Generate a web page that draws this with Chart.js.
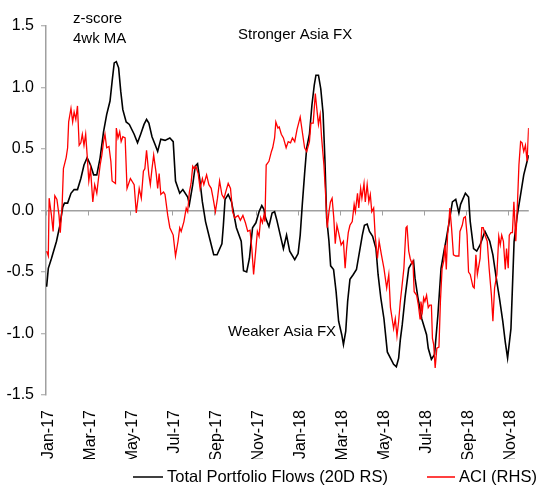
<!DOCTYPE html>
<html>
<head>
<meta charset="utf-8">
<script src="https://cdn.jsdelivr.net/npm/chart.js@4"></script>
<style>
  html, body { margin: 0; padding: 0; background: #fff; }
  #wrap { width: 542px; height: 493px; }
</style>
</head>
<body>
<div id="wrap"><canvas id="chart"></canvas></div>
<script>
// months since Jan-17 and z-score
const xTickLabels = ['Jan-17', 'Mar-17', 'May-17', 'Jul-17', 'Sep-17', 'Nov-17',
                     'Jan-18', 'Mar-18', 'May-18', 'Jul-18', 'Sep-18', 'Nov-18'];
const yTicks = [-1.5, -1.0, -0.5, 0.0, 0.5, 1.0, 1.5];
const seriesNames = ['Total Portfolio Flows (20D RS)', 'ACI (RHS)'];
const seriesColors = ['#000000', '#ff0000'];

const flowPoints = [
  [0.03,-0.62],[0.11,-0.47],[0.26,-0.39],[0.50,-0.25],[0.65,-0.13],[0.80,0.03],[0.88,0.06],[1.03,0.06],[1.19,0.14],[1.34,0.17],
  [1.50,0.17],[1.66,0.26],[1.81,0.37],[1.96,0.43],[2.12,0.37],[2.27,0.29],[2.42,0.29],[2.58,0.43],[2.74,0.64],[2.89,0.78],
  [3.05,0.89],[3.15,1.05],[3.25,1.20],[3.35,1.21],[3.46,1.16],[3.56,0.97],[3.66,0.82],[3.82,0.72],[3.97,0.70],[4.20,0.62],
  [4.36,0.55],[4.51,0.62],[4.67,0.70],[4.79,0.74],[4.90,0.71],[5.05,0.60],[5.21,0.53],[5.32,0.48],[5.47,0.58],[5.67,0.57],
  [5.90,0.59],[6.06,0.56],[6.17,0.24],[6.37,0.14],[6.52,0.17],[6.75,0.11],[6.83,0.05],[6.99,0.21],[7.11,0.36],[7.22,0.38],
  [7.32,0.26],[7.45,0.07],[7.60,-0.09],[7.80,-0.23],[7.99,-0.36],[8.15,-0.36],[8.38,-0.27],[8.45,-0.12],[8.53,0.09],[8.68,0.13],
  [8.84,0.07],[9.07,-0.14],[9.30,-0.25],[9.41,-0.49],[9.56,-0.50],[9.69,-0.39],[9.84,-0.14],[10.00,-0.10],[10.15,-0.01],[10.28,0.04],
  [10.38,0.01],[10.46,-0.06],[10.62,-0.13],[10.77,-0.02],[10.89,-0.01],[11.00,-0.08],[11.16,-0.20],[11.31,-0.31],[11.46,-0.20],[11.61,-0.33],
  [11.85,-0.40],[12.01,-0.35],[12.11,-0.20],[12.21,0.05],[12.32,0.30],[12.42,0.51],[12.55,0.62],[12.67,0.86],[12.78,1.02],[12.86,1.10],
  [12.98,1.10],[13.09,0.99],[13.20,0.79],[13.29,0.40],[13.37,-0.06],[13.48,-0.25],[13.56,-0.45],[13.70,-0.48],[13.82,-0.66],[13.94,-0.90],
  [14.09,-1.01],[14.17,-1.09],[14.28,-0.98],[14.37,-0.74],[14.48,-0.56],[14.64,-0.52],[14.79,-0.48],[14.94,-0.33],[15.07,-0.20],[15.17,-0.12],
  [15.30,-0.11],[15.41,-0.17],[15.56,-0.21],[15.72,-0.31],[15.82,-0.52],[15.95,-0.71],[16.10,-0.88],[16.26,-1.15],[16.41,-1.20],[16.56,-1.25],
  [16.69,-1.27],[16.80,-1.20],[16.88,-1.05],[16.97,-0.93],[17.11,-0.70],[17.28,-0.47],[17.41,-0.43],[17.51,-0.41],[17.58,-0.55],[17.71,-0.70],
  [17.90,-0.88],[18.13,-1.01],[18.21,-1.12],[18.36,-1.21],[18.51,-1.17],[18.67,-0.85],[18.82,-0.47],[18.96,-0.33],[19.05,-0.25],[19.21,-0.09],
  [19.36,0.07],[19.52,0.09],[19.67,-0.02],[19.75,0.05],[19.98,0.14],[20.13,0.11],[20.21,-0.09],[20.37,-0.31],[20.52,-0.33],[20.68,-0.28],
  [20.91,-0.17],[21.14,-0.25],[21.29,-0.36],[21.45,-0.55],[21.60,-0.71],[21.76,-0.90],[21.88,-1.07],[21.99,-1.20],[22.15,-0.96],[22.30,-0.25],
  [22.45,-0.04],[22.61,0.13],[22.76,0.29],[22.92,0.40],[23.00,0.45]
];

const aciPoints = [
  [0.03,-0.33],[0.11,-0.37],[0.15,0.10],[0.26,-0.04],[0.34,-0.17],[0.42,0.12],[0.52,0.09],[0.62,-0.04],[0.68,-0.18],[0.77,0.05],
  [0.83,0.34],[0.96,0.43],[1.03,0.51],[1.08,0.72],[1.19,0.83],[1.27,0.72],[1.34,0.80],[1.42,0.74],[1.50,0.85],[1.58,0.53],
  [1.66,0.55],[1.73,0.62],[1.81,0.53],[1.89,0.62],[1.96,0.45],[2.04,0.24],[2.12,0.34],[2.23,0.07],[2.32,0.21],[2.42,0.14],
  [2.50,0.26],[2.58,0.37],[2.66,0.45],[2.74,0.56],[2.81,0.62],[2.89,0.51],[3.00,0.52],[3.09,0.40],[3.15,0.24],[3.31,0.22],
  [3.35,0.67],[3.43,0.59],[3.51,0.64],[3.58,0.56],[3.66,0.60],[3.77,0.59],[3.86,0.18],[4.02,0.26],[4.20,0.21],[4.30,-0.02],
  [4.44,0.18],[4.54,0.10],[4.64,0.32],[4.71,0.34],[4.79,0.49],[4.90,0.29],[4.97,0.21],[5.05,0.34],[5.13,0.45],[5.25,0.30],
  [5.32,0.18],[5.39,0.30],[5.47,0.13],[5.60,0.15],[5.67,0.13],[5.80,-0.04],[5.90,-0.14],[6.06,-0.20],[6.17,-0.37],[6.29,-0.25],
  [6.37,-0.14],[6.44,-0.17],[6.57,-0.09],[6.68,0.02],[6.75,-0.01],[6.83,0.15],[6.91,0.22],[6.99,0.36],[7.06,0.34],[7.14,0.36],
  [7.25,0.30],[7.34,0.18],[7.45,0.26],[7.52,0.21],[7.65,0.29],[7.76,0.21],[7.87,0.18],[7.96,0.10],[8.07,-0.01],[8.17,0.10],
  [8.27,0.24],[8.38,0.13],[8.48,0.10],[8.61,0.18],[8.68,0.22],[8.79,0.18],[8.89,-0.01],[8.99,-0.06],[9.15,-0.04],[9.26,-0.08],
  [9.38,-0.04],[9.50,-0.10],[9.61,-0.17],[9.72,-0.16],[9.81,-0.32],[9.89,-0.52],[10.00,-0.31],[10.07,-0.17],[10.15,-0.21],[10.23,-0.06],
  [10.31,-0.10],[10.38,-0.04],[10.43,-0.09],[10.49,0.37],[10.62,0.40],[10.74,0.48],[10.80,0.51],[10.89,0.59],[10.95,0.72],[11.05,0.67],
  [11.11,0.68],[11.21,0.62],[11.31,0.59],[11.44,0.51],[11.54,0.56],[11.65,0.55],[11.74,0.59],[11.85,0.56],[11.96,0.66],[12.11,0.76],
  [12.21,0.64],[12.32,0.51],[12.42,0.48],[12.55,0.56],[12.62,0.71],[12.73,0.71],[12.83,0.95],[12.90,0.83],[12.98,0.70],[13.06,0.78],
  [13.13,0.59],[13.24,0.37],[13.32,0.13],[13.40,-0.14],[13.48,-0.01],[13.55,0.07],[13.63,0.10],[13.71,-0.06],[13.78,-0.27],[13.86,-0.12],
  [13.94,-0.18],[14.06,-0.28],[14.17,-0.25],[14.25,-0.47],[14.32,-0.31],[14.40,-0.18],[14.48,-0.12],[14.59,-0.09],[14.68,0.05],[14.74,-0.01],
  [14.84,0.14],[14.90,0.02],[14.99,0.18],[15.05,0.10],[15.15,0.22],[15.21,0.07],[15.30,0.21],[15.38,0.07],[15.45,0.13],[15.52,-0.01],
  [15.61,0.02],[15.68,-0.20],[15.79,-0.39],[15.87,-0.25],[15.98,-0.36],[16.10,-0.47],[16.23,-0.63],[16.33,-0.52],[16.41,-0.79],[16.49,-0.88],
  [16.56,-0.96],[16.64,-0.88],[16.72,-1.02],[16.80,-0.90],[16.88,-0.74],[16.95,-0.63],[17.05,-0.47],[17.15,-0.14],[17.20,-0.13],[17.28,-0.33],
  [17.35,-0.39],[17.43,-0.43],[17.48,-0.41],[17.54,-0.66],[17.66,-0.69],[17.74,-0.77],[17.82,-0.88],[17.86,-0.74],[17.93,-0.82],[17.99,-0.71],
  [18.05,-0.74],[18.13,-0.69],[18.21,-0.79],[18.28,-0.77],[18.36,-0.77],[18.41,-1.04],[18.47,-1.09],[18.54,-1.28],[18.62,-1.12],[18.72,-1.11],
  [18.79,-0.74],[18.87,-0.47],[18.95,-0.41],[19.01,-0.28],[19.07,-0.48],[19.13,-0.20],[19.18,-0.12],[19.24,0.02],[19.32,-0.14],[19.41,-0.36],
  [19.52,-0.37],[19.67,-0.37],[19.72,-0.17],[19.83,-0.12],[19.90,-0.06],[19.98,-0.05],[20.06,-0.20],[20.13,-0.50],[20.21,-0.52],[20.34,-0.62],
  [20.40,-0.63],[20.48,-0.36],[20.55,-0.52],[20.68,-0.39],[20.76,-0.14],[20.83,-0.14],[20.91,-0.20],[21.02,-0.25],[21.11,-0.47],[21.22,-0.69],
  [21.29,-0.90],[21.37,-0.63],[21.48,-0.52],[21.57,-0.21],[21.64,-0.28],[21.71,-0.20],[21.79,-0.25],[21.88,-0.48],[21.94,-0.31],[22.02,-0.47],
  [22.07,-0.20],[22.15,-0.18],[22.22,-0.18],[22.29,0.07],[22.38,-0.25],[22.47,0.10],[22.53,0.37],[22.61,0.56],[22.68,0.55],[22.76,0.48],
  [22.84,0.53],[22.92,0.40],[22.99,0.67]
];

const FONT = '"Liberation Sans", Arial, sans-serif';
const AXIS_GREY = '#a0a0a0';

Chart.defaults.font.family = FONT;
Chart.defaults.font.size = 16;
Chart.defaults.color = '#000';

// tick marks on the zero line, notes and legend
const extras = {
  id: 'extras',
  beforeDatasetsDraw(chart) {
    const ctx = chart.ctx;
    const xs = chart.scales.x;
    const y0 = chart.scales.y.getPixelForValue(0);
    ctx.save();
    ctx.strokeStyle = AXIS_GREY;
    ctx.lineWidth = 1;
    xs.ticks.forEach(t => {
      const px = Math.round(xs.getPixelForValue(t.value)) + 0.5;
      ctx.beginPath();
      ctx.moveTo(px, y0);
      ctx.lineTo(px, y0 + 5);
      ctx.stroke();
    });
    ctx.restore();
  },
  afterDraw(chart) {
    const ctx = chart.ctx;
    ctx.save();
    ctx.fillStyle = '#000';
    ctx.textBaseline = 'middle';
    ctx.textAlign = 'left';
    ctx.font = '15px ' + FONT;
    ctx.fillText('z-score', 73, 19);
    ctx.fillText('4wk MA', 73, 39);
    ctx.fillText('Stronger Asia FX', 238, 35);
    ctx.fillText('Weaker Asia FX', 228, 332);

    // legend
    ctx.font = '16.5px ' + FONT;
    const ly = 477;
    const starts = [133, 427];
    const lens = [30, 28];
    seriesNames.forEach((name, i) => {
      ctx.strokeStyle = seriesColors[i];
      ctx.lineWidth = 1.5;
      ctx.beginPath();
      ctx.moveTo(starts[i], ly);
      ctx.lineTo(starts[i] + lens[i], ly);
      ctx.stroke();
      ctx.fillText(name, starts[i] + lens[i] + 4, ly);
    });
    ctx.restore();
  }
};

const toXY = pts => pts.map(p => ({ x: p[0], y: p[1] }));

new Chart(document.getElementById('chart'), {
  type: 'line',
  data: {
    datasets: [
      {
        label: seriesNames[0],
        data: toXY(flowPoints),
        borderColor: seriesColors[0],
        borderWidth: 1.6,
        pointRadius: 0,
        tension: 0,
        order: 2
      },
      {
        label: seriesNames[1],
        data: toXY(aciPoints),
        borderColor: seriesColors[1],
        borderWidth: 1.3,
        pointRadius: 0,
        tension: 0,
        order: 1
      }
    ]
  },
  options: {
    responsive: true,
    maintainAspectRatio: false,
    animation: false,
    devicePixelRatio: 1,
    layout: { padding: { top: 26, right: 0, bottom: 34, left: 0 } },
    plugins: {
      legend: { display: false },
      tooltip: { enabled: false }
    },
    scales: {
      x: {
        type: 'linear',
        min: 0,
        max: 23,
        grid: { display: false, drawTicks: false },
        border: { display: false },
        ticks: {
          stepSize: 2,
          includeBounds: false,
          autoSkip: false,
          maxRotation: 90,
          minRotation: 90,
          padding: 15,
          labelOffset: 3,
          font: { size: 16 },
          callback: v => xTickLabels[Math.round(v / 2)]
        },
        afterFit: s => { s.height = 64; }
      },
      y: {
        min: yTicks[0],
        max: yTicks[yTicks.length - 1],
        grid: {
          color: c => (c.tick && c.tick.value === 0) ? AXIS_GREY : 'rgba(0,0,0,0)',
          lineWidth: 1.5,
          drawTicks: true,
          tickLength: 5,
          tickColor: AXIS_GREY,
          tickWidth: 1
        },
        border: { color: AXIS_GREY, width: 1.5 },
        ticks: {
          stepSize: 0.5,
          padding: 7,
          font: { size: 16 },
          callback: v => v.toFixed(1)
        },
        afterFit: s => { s.width = 46; }
      }
    }
  },
  plugins: [extras]
});
</script>
</body>
</html>
